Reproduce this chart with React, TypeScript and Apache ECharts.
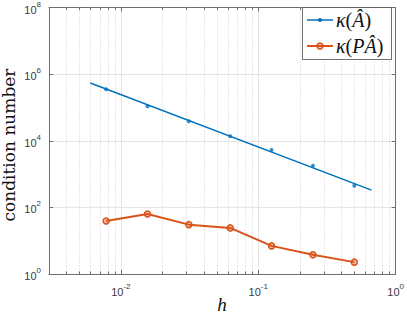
import React, { useEffect, useRef } from "react";
import * as echarts from "echarts";

// ---- data ----
const hValues = [1 / 128, 1 / 64, 1 / 32, 1 / 16, 1 / 8, 1 / 4, 1 / 2];
const kappaA = [3.5e5, 1.09e5, 3.86e4, 1.37e4, 5.24e3, 1.77e3, 447];
const kappaPA = [39.2, 63.4, 30.3, 24.2, 6.98, 3.76, 2.27];
const fitH = [0.006, 0.667];
const fitKappa = [5.4e5, 330];
const xRange = [0.003, 1];
const yRange = [1, 1e8];
const minorDecades = [-3, -2, -1];
const minorMultipliers = [2, 3, 4, 5, 6, 7, 8, 9];

const BLUE = "#0072BD";
const ORANGE = "#D95319";
const AXIS = "#6e6e6e";
const LABEL = "#3a3a3a";

const minorX: number[] = [];
minorDecades.forEach((d) =>
  minorMultipliers.forEach((m) => {
    const v = m * Math.pow(10, d);
    if (v > xRange[0] && v < xRange[1]) minorX.push(v);
  })
);

const supRich = {
  b: { fontSize: 11, fontFamily: "Liberation Sans", color: LABEL, lineHeight: 15, verticalAlign: "bottom" },
  s: { fontSize: 8, fontFamily: "Liberation Sans", color: LABEL, lineHeight: 8, verticalAlign: "top" },
};

const powLabel = (v: number) => {
  const e = Math.log10(v);
  if (Math.abs(e - Math.round(e)) > 1e-6) return "";
  return `{b|10}{s|${Math.round(e)}}`;
};

const legendRich = {
  i: { fontFamily: "Liberation Serif", fontStyle: "italic", fontSize: 20, fill: "#111" },
  r: { fontFamily: "Liberation Serif", fontSize: 20, fill: "#111" },
};

export default function App() {
  const ref = useRef<HTMLDivElement>(null);
  useEffect(() => {
    if (!ref.current) return;
    const chart = echarts.init(ref.current, null, { renderer: "svg" });
    const tickStyle = { color: AXIS, width: 1 };
    chart.setOption({
      animation: false,
      backgroundColor: "#ffffff",
      grid: { left: 49, right: 10, top: 7, bottom: 39, containLabel: false },
      xAxis: [
        {
          type: "log",
          logBase: 10,
          min: xRange[0],
          max: xRange[1],
          position: "bottom",
          axisLine: { show: true, lineStyle: tickStyle },
          axisTick: { show: true, inside: true, length: 4, lineStyle: tickStyle },
          axisLabel: { formatter: powLabel, rich: supRich, margin: 8, showMinLabel: false },
          splitLine: { show: true, lineStyle: { color: "#e4e4e4", width: 1 } },
        },
        {
          type: "log",
          logBase: 10,
          min: xRange[0],
          max: xRange[1],
          position: "top",
          axisLine: { show: true, lineStyle: tickStyle },
          axisTick: { show: true, inside: true, length: 4, lineStyle: tickStyle },
          axisLabel: { show: false },
          splitLine: { show: false },
        },
      ],
      yAxis: [
        {
          type: "log",
          logBase: 10,
          min: yRange[0],
          max: yRange[1],
          interval: 2,
          position: "left",
          axisLine: { show: true, lineStyle: tickStyle },
          axisTick: { show: true, inside: true, length: 4, lineStyle: tickStyle },
          axisLabel: { formatter: powLabel, rich: supRich, margin: 8 },
          splitLine: { show: true, lineStyle: { color: "#e4e4e4", width: 1 } },
        },
        {
          type: "log",
          logBase: 10,
          min: yRange[0],
          max: yRange[1],
          interval: 2,
          position: "right",
          axisLine: { show: true, lineStyle: tickStyle },
          axisTick: { show: true, inside: true, length: 4, lineStyle: tickStyle },
          axisLabel: { show: false },
          splitLine: { show: false },
        },
      ],
      series: [
        {
          type: "custom",
          coordinateSystem: "cartesian2d",
          silent: true,
          z: 1,
          data: minorX.map((v) => [v, 1]),
          encode: { x: 0, y: 1 },
          renderItem: (params: any, api: any) => {
            const x = Math.round(api.coord([api.value(0), 10])[0]) + 0.5;
            const cs = params.coordSys;
            const y0 = cs.y;
            const y1 = cs.y + cs.height;
            return {
              type: "group",
              children: [
                {
                  type: "line",
                  shape: { x1: x, y1: y0, x2: x, y2: y1 },
                  style: { stroke: "#cfcfcf", lineWidth: 1, lineDash: [1, 2] },
                },
                {
                  type: "line",
                  shape: { x1: x, y1: y1, x2: x, y2: y1 - 2.5 },
                  style: { stroke: AXIS, lineWidth: 1 },
                },
                {
                  type: "line",
                  shape: { x1: x, y1: y0, x2: x, y2: y0 + 2.5 },
                  style: { stroke: AXIS, lineWidth: 1 },
                },
              ],
            };
          },
        },
        {
          name: "fit",
          type: "line",
          data: fitH.map((h, i) => [h, fitKappa[i]]),
          symbol: "none",
          lineStyle: { color: BLUE, width: 1.5 },
          z: 3,
        },
        {
          name: "κ(Â)",
          type: "scatter",
          data: hValues.map((h, i) => [h, kappaA[i]]),
          symbol: "circle",
          symbolSize: 4,
          itemStyle: { color: BLUE },
          z: 4,
        },
        {
          name: "κ(PÂ)",
          type: "line",
          data: hValues.map((h, i) => [h, kappaPA[i]]),
          symbol: "circle",
          symbolSize: 6,
          showAllSymbol: true,
          lineStyle: { color: ORANGE, width: 2 },
          itemStyle: { color: "rgba(217,83,25,0.35)", borderColor: ORANGE, borderWidth: 1.5 },
          z: 4,
        },
      ],
      graphic: [
        {
          type: "text",
          x: 9,
          y: 145,
          rotation: Math.PI / 2,
          style: {
            text: "condition number",
            fontFamily: "DejaVu Serif",
            fontSize: 17,
            fill: "#111",
            align: "center",
            verticalAlign: "middle",
          },
        },
        {
          type: "text",
          x: 222,
          y: 304,
          style: {
            text: "h",
            fontFamily: "Liberation Serif",
            fontStyle: "italic",
            fontSize: 19,
            fill: "#111",
            align: "center",
            verticalAlign: "middle",
          },
        },
        {
          type: "rect",
          z: 100,
          shape: { x: 302.5, y: 7.5, width: 89, height: 52 },
          style: { fill: "#ffffff", stroke: "#4a4a4a", lineWidth: 0.8 },
        },
        {
          type: "line",
          z: 101,
          shape: { x1: 307, y1: 20, x2: 333, y2: 20 },
          style: { stroke: BLUE, lineWidth: 1.5 },
        },
        {
          type: "circle",
          z: 101,
          shape: { cx: 320, cy: 20, r: 2 },
          style: { fill: BLUE },
        },
        {
          type: "text",
          z: 101,
          x: 336,
          y: 20,
          style: { text: "{i|κ}{r|(}{i|Â}{r|)}", rich: legendRich, verticalAlign: "middle" },
        },
        {
          type: "line",
          z: 101,
          shape: { x1: 307, y1: 46, x2: 333, y2: 46 },
          style: { stroke: ORANGE, lineWidth: 2 },
        },
        {
          type: "circle",
          z: 101,
          shape: { cx: 320, cy: 46, r: 3 },
          style: { fill: "rgba(217,83,25,0.35)", stroke: ORANGE, lineWidth: 1.5 },
        },
        {
          type: "text",
          z: 101,
          x: 336,
          y: 46,
          style: { text: "{i|κ}{r|(}{i|PÂ}{r|)}", rich: legendRich, verticalAlign: "middle" },
        },
      ],
    });
    return () => chart.dispose();
  }, []);
  return (
    <div
      ref={ref}
      style={{ position: "fixed", left: 0, top: 0, width: 407, height: 313, background: "#fff" }}
    />
  );
}
